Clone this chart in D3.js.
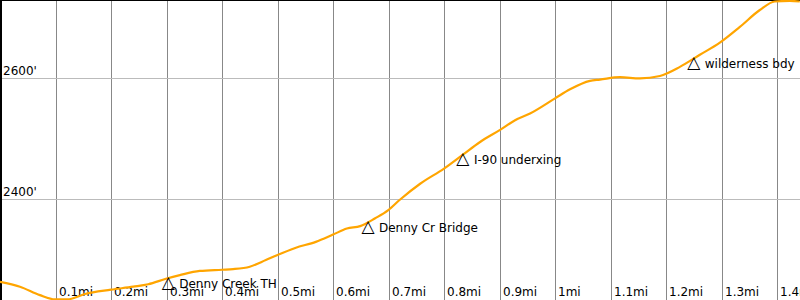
<!DOCTYPE html>
<html>
<head>
<meta charset="utf-8">
<script src="https://cdn.jsdelivr.net/npm/d3@7"></script>
<style>
  html, body { margin: 0; padding: 0; background: #fff; }
  svg { display: block; font-family: "DejaVu Sans", sans-serif; font-size: 12px; }
</style>
</head>
<body>
<div id="chart"></div>
<script>
// elevation profile, distance in miles, elevation in feet
const miles = [0.000, 0.036, 0.072, 0.099, 0.121, 0.153, 0.200, 0.240, 0.267, 0.299,
  0.324, 0.360, 0.400, 0.420, 0.450, 0.479, 0.499, 0.532, 0.569, 0.600,
  0.625, 0.649, 0.676, 0.699, 0.721, 0.757, 0.800, 0.834, 0.865, 0.901,
  0.928, 0.955, 1.000, 1.027, 1.063, 1.081, 1.117, 1.153, 1.189, 1.225,
  1.261, 1.297, 1.333, 1.369, 1.396, 1.423, 1.441];
const elevation = [2264, 2256, 2242, 2235, 2235, 2244, 2251, 2256, 2260, 2269,
  2275, 2282, 2284, 2285, 2289, 2300, 2308, 2320, 2330, 2342,
  2352, 2356, 2369, 2382, 2400, 2426, 2451, 2474, 2495, 2515,
  2531, 2542, 2567, 2582, 2596, 2598, 2602, 2600, 2604, 2619,
  2639, 2659, 2685, 2713, 2727, 2728, 2727];

const waypointNames = ['Denny Creek TH', 'Denny Cr Bridge', 'I-90 underxing', 'wilderness bdy'];
const waypointMiles = [0.303, 0.663, 0.834, 1.250];
const waypointElev = [2270, 2362, 2474, 2633];

const mileTicks = [0.1, 0.2, 0.3, 0.4, 0.5, 0.6, 0.7, 0.8, 0.9, 1.0, 1.1, 1.2, 1.3, 1.4];
const elevTicks = [2400, 2600];

const width = 800, height = 300;

const svg = d3.select('#chart').append('svg')
  .attr('width', width).attr('height', height);

const x = d3.scaleLinear().domain([0, 1.4414]).range([0, width]);
const y = d3.scaleLinear().domain([2234, 2729.5]).range([300, 0]);

// grid
svg.append('g').selectAll('line').data(mileTicks).enter().append('line')
  .attr('x1', d => Math.round(x(d)) + 0.5).attr('x2', d => Math.round(x(d)) + 0.5)
  .attr('y1', 0).attr('y2', height)
  .attr('stroke', '#888').attr('stroke-width', 1);

svg.append('g').selectAll('line').data(elevTicks).enter().append('line')
  .attr('x1', 0).attr('x2', width)
  .attr('y1', d => Math.round(y(d)) + 0.5).attr('y2', d => Math.round(y(d)) + 0.5)
  .attr('stroke', '#bbb').attr('stroke-width', 1);

// tick labels
svg.append('g').selectAll('text').data(mileTicks).enter().append('text')
  .attr('x', d => Math.round(x(d)) + 3).attr('y', 296)
  .attr('fill', '#000')
  .text(d => (+d.toFixed(1)) + 'mi');

svg.append('g').selectAll('text').data(elevTicks).enter().append('text')
  .attr('x', 3).attr('y', d => Math.round(y(d)) - 3.5)
  .attr('fill', '#000')
  .text(d => d + "'");

// borders
svg.append('line').attr('x1', 1).attr('x2', 1).attr('y1', 0).attr('y2', height)
  .attr('stroke', '#000').attr('stroke-width', 2);
svg.append('line').attr('x1', 0).attr('x2', width).attr('y1', 0.5).attr('y2', 0.5)
  .attr('stroke', '#000').attr('stroke-width', 1);

// profile line
const pts = miles.map((m, i) => [m, elevation[i]]);
const line = d3.line().x(d => x(d[0])).y(d => y(d[1])).curve(d3.curveMonotoneX);
svg.append('path').datum(pts)
  .attr('d', line)
  .attr('fill', 'none')
  .attr('stroke', '#ffa500')
  .attr('stroke-width', 2.2);

// waypoints: triangle marker + name
const wp = svg.append('g').selectAll('g').data(waypointNames).enter().append('g')
  .attr('transform', (d, i) => `translate(${x(waypointMiles[i])},${y(waypointElev[i]) + 9.5})`);
wp.append('text')
  .attr('text-anchor', 'middle')
  .attr('x', 0).attr('y', 0)
  .style('font-size', '17px')
  .attr('fill', '#000')
  .text('\u25B3');
wp.append('text')
  .attr('x', 11).attr('y', 0)
  .attr('fill', '#000')
  .text(d => d);
</script>
</body>
</html>
